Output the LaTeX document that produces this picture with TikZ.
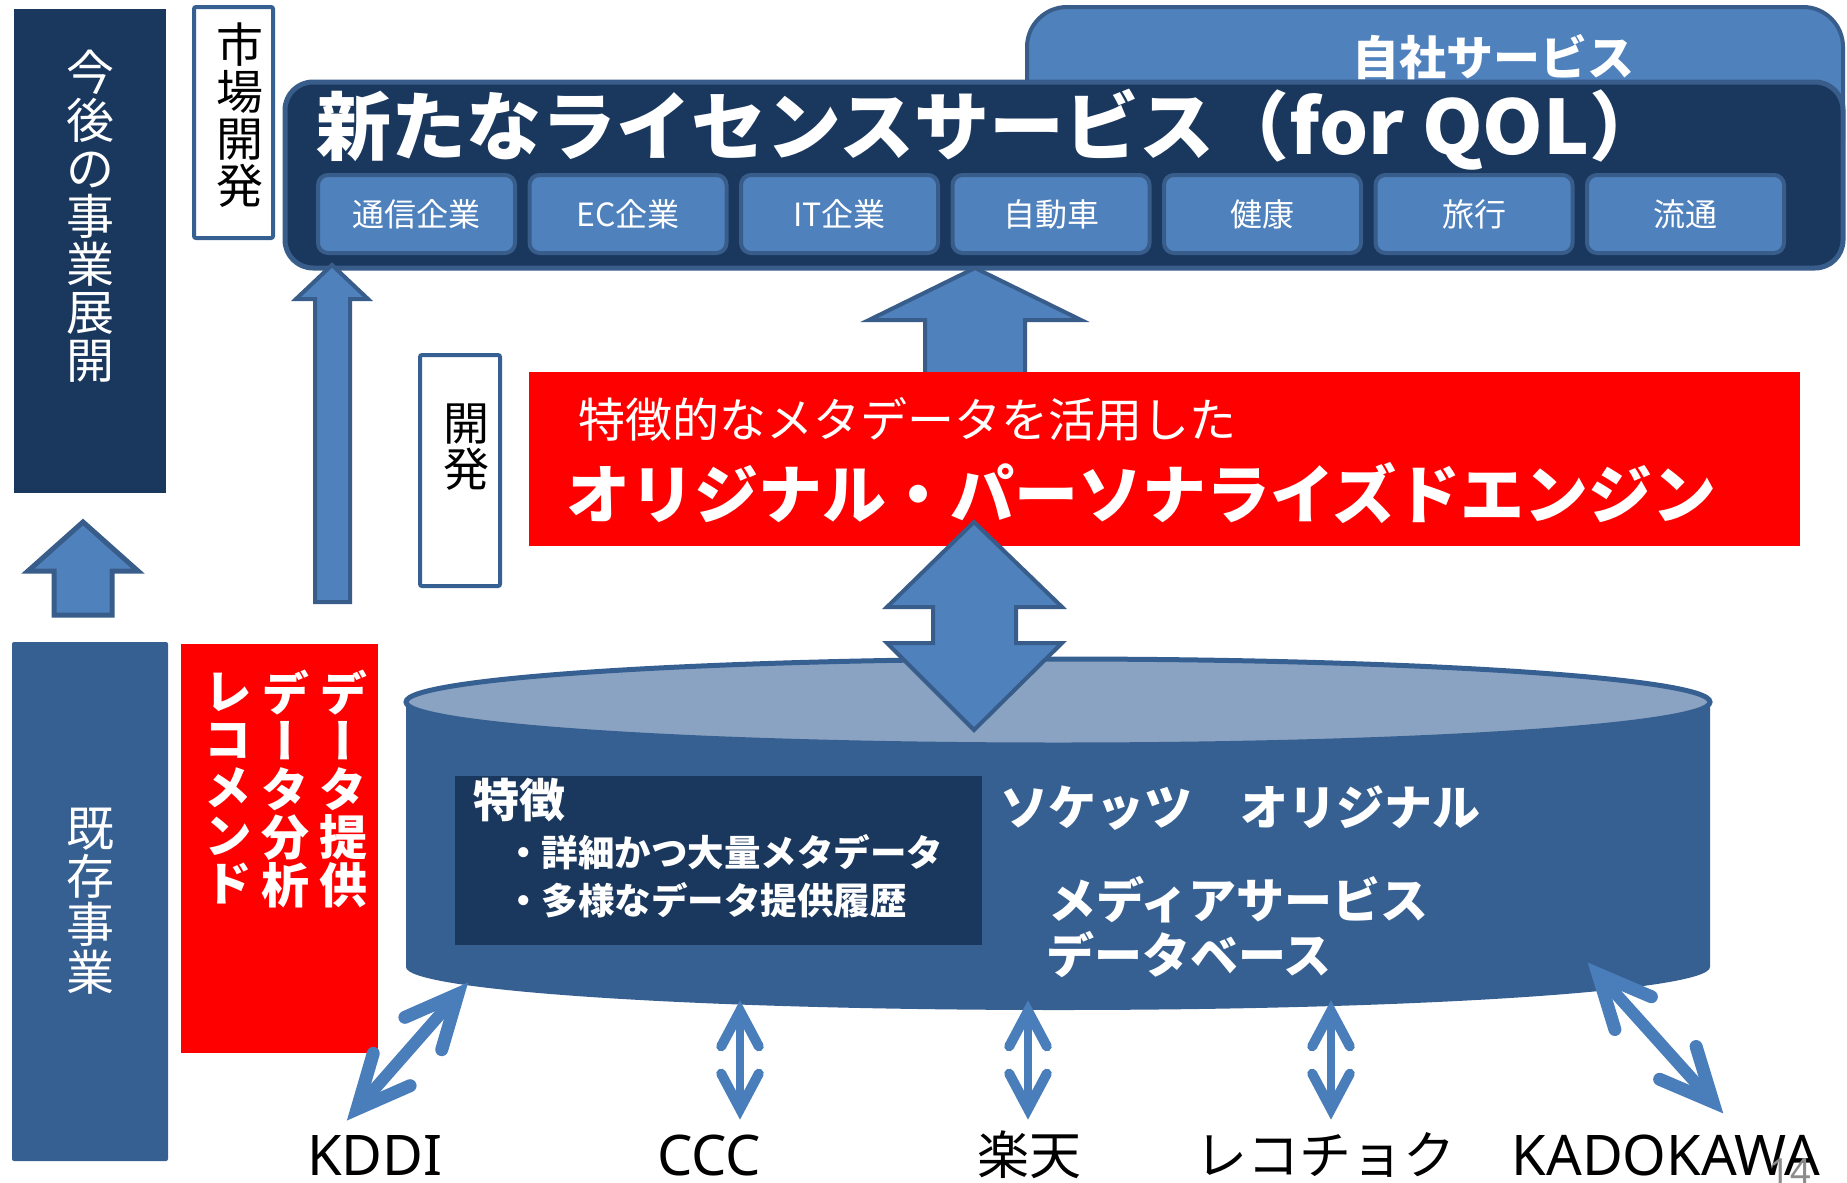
\documentclass[tikz,border=0pt]{standalone}
\usepackage{fontspec}
\usepackage{graphicx}
\newfontfamily\jp{Noto Sans CJK JP}
\newfontfamily\jpv{Noto Sans CJK JP}[RawFeature=+vert]
\newfontfamily\jpwide{Noto Sans CJK JP}[FakeStretch=1.03]
\newfontfamily\lat{Noto Sans}
\usetikzlibrary{calc}
\definecolor{navy}{HTML}{1A375E}
\definecolor{midblue}{HTML}{376092}
\definecolor{accent}{HTML}{4F81BD}
\definecolor{edge}{HTML}{385D8A}
\definecolor{topface}{HTML}{8BA3C2}
\definecolor{linkblue}{HTML}{4A7EBB}
\definecolor{pagegray}{HTML}{8C8C8C}
\newcommand\fs[1]{\fontsize{#1pt}{#1pt}\selectfont}
% #1 end A, #2 end B, #3 arm length, #4 half angle, #5 arm width, #6 shaft width
\newcommand\twoway[6]{%
  \draw[linkline,line width=#6,shorten <=8pt,shorten >=8pt] (#1) -- (#2);
  \draw[linkline,line width=#5] ($(#1)!#3!#4:(#2)$) -- (#1) -- ($(#1)!#3!-#4:(#2)$);
  \draw[linkline,line width=#5] ($(#2)!#3!#4:(#1)$) -- (#2) -- ($(#2)!#3!-#4:(#1)$);
}
\begin{document}
\begin{tikzpicture}[x=1pt,y=-1pt,
  every node/.style={inner sep=0pt,outer sep=0pt},
  blockarrow/.style={fill=accent,draw=edge,line width=4pt,line join=miter},
  framebox/.style={fill=white,draw=midblue,line width=4pt,rounded corners=2pt},
  subbox/.style={fill=accent,draw=edge,line width=4pt,rounded corners=10pt,minimum width=197pt,minimum height=78pt,text=white,font=\jp\fs{32}},
  linkline/.style={draw=linkblue,line cap=round,line join=miter},
  vjp/.style={align=center,font={\jp\fs{#1}\lineskiplimit=-50pt}},
  redcol/.style={align=center,text=white,font={\jpv\bfseries\fs{48}\lineskiplimit=-50pt}},
  bottomlabel/.style={text=black},
]
\fill[white] (0,0) rectangle (1847,1183);
\useasboundingbox (0,0) rectangle (1847,1183);

% own service tab
\draw[fill=accent,draw=edge,line width=4pt,rounded corners=40pt] (1027,7) rectangle (1843,180);
\node[anchor=west,text=white,font=\jp\bfseries\fs{47}] (own) at (1352,57) {自社サービス};

% main license service box
\draw[fill=navy,draw=edge,line width=5pt,rounded corners=28pt] (285,82) rectangle (1843,268);
\node[anchor=west,text=white,font=\jp\bfseries\fs{75}] (title) at (316,130) {新たなライセンスサービス（{\jpwide\bfseries for QOL}）};
\foreach \lab [count=\i from 0] in {通信企業,EC企業,IT企業,自動車,健康,旅行,流通}{
  \node[subbox] (sb\i) at ({416.5+211.5*\i},214) {\lab};
}

% left column top
\fill[navy] (14,9) rectangle (166,493);
\node[vjp=48,text=white] (future) at (90,216) {今\\後\\の\\事\\業\\展\\開};

% market development
\draw[framebox] (194,7) rectangle (273,238);
\node[vjp=47] (mkt) at (240,115) {市\\場\\開\\発};

% tall arrow
\draw[blockarrow] (332,265) -- (368,299) -- (350,299) -- (350,602) -- (315,602) -- (315,299) -- (296,299) -- cycle;
% small up arrow
\draw[blockarrow,line width=5pt] (83,522) -- (138,571) -- (112,571) -- (112,615) -- (54,615) -- (54,571) -- (28,571) -- cycle;

% existing business
\fill[midblue,rounded corners=2pt] (12,642) rectangle (168,1161);
\node[vjp=48,text=white] (exist) at (90,901) {既\\存\\事\\業};

% red left box
\fill[red] (181,644) rectangle (378,1053);
\node[redcol] (c1) at (343,789) {デ\\ー\\タ\\提\\供};
\node[redcol] (c2) at (285,789) {デ\\ー\\タ\\分\\析};
\node[redcol] (c3) at (228,789) {レ\\コ\\メ\\ン\\ド};

% development
\draw[framebox] (420,355) rectangle (500,586);
\node[vjp=46] (dev) at (466,447) {開\\発};

% arrow up into main box
\draw[blockarrow] (975,268) -- (1081,320) -- (1025,320) -- (1025,374) -- (925,374) -- (925,320) -- (869,320) -- cycle;

% red engine box
\fill[red] (529,372) rectangle (1800,546);
\node[anchor=west,text=white,font=\jp\fs{47}] (sub) at (578,419) {特徴的なメタデータを活用した};
\node[anchor=west,text=white,font=\jp\bfseries\fs{64}] (engine) at (566,493) {オリジナル・パーソナライズドエンジン};

% cylinder database
\fill[midblue] (406,702) -- (406,967) arc[start angle=180,end angle=360,x radius=652pt,y radius=43pt] -- (1710,702) -- cycle;
\draw[fill=topface,draw=midblue,line width=5pt] (1058,702) ellipse [x radius=652pt,y radius=43pt];

% double block arrow
\draw[blockarrow] (974,522) -- (1062,607) -- (1016,607) -- (1016,643) -- (1062,643) -- (974,730) -- (887,643) -- (933,643) -- (933,607) -- (887,607) -- cycle;

% features box
\fill[navy] (455,776) rectangle (982,945);
\node[anchor=west,text=white,font=\jp\bfseries\fs{46}] (feat) at (473,800) {特徴};
\node[anchor=west,text=white,font=\jp\bfseries\fs{36.5}] (f1) at (505,852) {・詳細かつ大量メタデータ};
\node[anchor=west,text=white,font=\jp\bfseries\fs{36.5}] (f2) at (505,900) {・多様なデータ提供履歴};

\node[anchor=west,text=white,font=\jp\bfseries\fs{48}] (db1) at (1000,808) {ソケッツ　オリジナル};
\node[anchor=west,text=white,font=\jp\bfseries\fs{48}] (db2) at (1048,900) {メディアサービス};
\node[anchor=west,text=white,font=\jp\bfseries\fs{48}] (db3) at (1046,955) {データベース};

% partner labels
\node[bottomlabel,font=\lat\fs{56}] (kddi) at (375,1155) {KDDI};
\node[bottomlabel,font=\lat\fs{56}] (ccc) at (709,1155) {CCC};
\node[bottomlabel,font=\jp\fs{52}] (rakuten) at (1029,1155) {楽天};
\node[bottomlabel,font=\jp\fs{52}] (reco) at (1325,1155) {レコチョク};
\node[bottomlabel,font=\lat\fs{56}] (kado) at (1666,1155) {KADOKAWA};

% link arrows
\coordinate (kddiT) at (458,994);
\coordinate (kddiB) at (357,1109);
\coordinate (cccT) at (740,1011);
\coordinate (cccB) at (740,1109);
\coordinate (rakT) at (1028,1011);
\coordinate (rakB) at (1028,1109);
\coordinate (recT) at (1331,1011);
\coordinate (recB) at (1331,1109);
\coordinate (kadT) at (1598,974);
\coordinate (kadB) at (1713,1102);
\twoway{kddiT}{kddiB}{58pt}{25}{13pt}{12pt}
\twoway{cccT}{cccB}{40pt}{28}{10pt}{8pt}
\twoway{rakT}{rakB}{40pt}{28}{10pt}{8pt}
\twoway{recT}{recB}{40pt}{28}{10pt}{8pt}
\twoway{kadT}{kadB}{58pt}{25}{13pt}{12pt}

% page number
\node[text=pagegray,font=\lat\fs{36},anchor=base] (pg) at (1790,1184) {14};
\end{tikzpicture}
\end{document}
